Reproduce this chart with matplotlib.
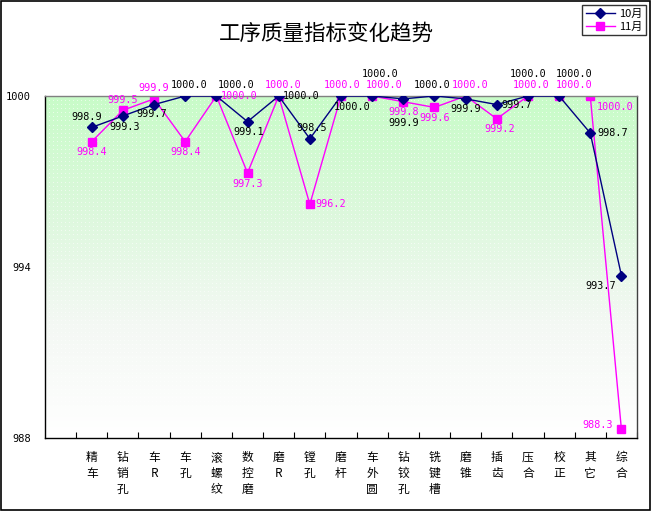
import numpy as np
import matplotlib
matplotlib.use('Agg')
import matplotlib.pyplot as plt
from matplotlib.colors import LinearSegmentedColormap

plt.rcParams['font.family'] = ['Noto Sans CJK SC', 'DejaVu Sans']

# data
categories = ['精\n车', '钻\n销\n孔', '车\nR', '车\n孔', '滚\n螺\n纹', '数\n控\n磨', '磨\nR', '镗\n孔', '磨\n杆',
              '车\n外\n圆', '钻\n铰\n孔', '铣\n键\n槽', '磨\n锥', '插\n齿', '压\n合', '校\n正', '其\n它', '综\n合']
oct_vals = [998.9, 999.3, 999.7, 1000.0, 1000.0, 999.1, 1000.0, 998.5, 1000.0,
            1000.0, 999.9, 1000.0, 999.9, 999.7, 1000.0, 1000.0, 998.7, 993.7]
nov_vals = [998.4, 999.5, 999.9, 998.4, 1000.0, 997.3, 1000.0, 996.2, 1000.0,
            1000.0, 999.8, 999.6, 1000.0, 999.2, 1000.0, 1000.0, 1000.0, 988.3]
yticks = [988, 994, 1000]

# label offsets in points (dx, dy, ha, va)
oct_off = [(-3.5, 4, 'center', 'bottom'), (1, -4, 'center', 'top'), (-2, -3, 'center', 'top'), (3, 4, 'center', 'bottom'),
           (14, 4, 'center', 'bottom'), (1, -4, 'center', 'top'), (3, 0, 'left', 'center'), (1, 4, 'center', 'bottom'),
           (8, -4, 'center', 'top'), (6, 12, 'center', 'bottom'), (0, -14, 'center', 'top'), (-2, 4, 'center', 'bottom'),
           (0, -4, 'center', 'top'), (3, 0, 'left', 'center'), (0, 12, 'center', 'bottom'), (11, 12, 'center', 'bottom'),
           (5, 0, 'left', 'center'), (-4, -4, 'right', 'top')]
nov_off = [(0, -4, 'center', 'top'), (0, 4, 'center', 'bottom'), (0, 4, 'center', 'bottom'), (0, -4, 'center', 'top'),
           (3, 0, 'left', 'center'), (0, -4, 'center', 'top'), (3, 4, 'center', 'bottom'), (4, 0, 'left', 'center'),
           (1, 4, 'center', 'bottom'), (9, 4, 'center', 'bottom'), (0, -4, 'center', 'top'), (0, -4, 'center', 'top'),
           (3, 4, 'center', 'bottom'), (2, -4, 'center', 'top'), (2, 4, 'center', 'bottom'), (11, 4, 'center', 'bottom'),
           (5, -4, 'left', 'top'), (-6, 3, 'right', 'center')]

fig = plt.figure(figsize=(6.51, 5.11), dpi=100)
fig.patch.set_facecolor('white')
fig.patches.append(plt.Rectangle((0.0015, 0.002), 0.997, 0.996, transform=fig.transFigure,
                                 fill=False, edgecolor='black', linewidth=1.2))

# plot area: x 45..637 px, y 96..438 px (one empty slot left of the first category)
ax = fig.add_axes([0.0691, 0.1429, 0.9094, 0.6692])
x = np.arange(len(categories))
x0, x1 = -1.5, len(categories) - 0.5
ax.set_xlim(x0, x1)
ax.set_ylim(988, 1000)

# gradient background
cmap = LinearSegmentedColormap.from_list('bg', ['#c8fcc8', '#dcf8dc', '#f4f8f4', '#ffffff'])
grad = np.linspace(0, 1, 256).reshape(-1, 1)
ax.imshow(grad, aspect='auto', cmap=cmap, extent=(x0, x1, 988, 1000), origin='upper', zorder=0)
# dotted texture
gx, gy = np.meshgrid(np.linspace(x0, x1, 150), np.linspace(988, 1000, 85))
ax.scatter(gx.ravel(), gy.ravel(), s=0.3, color='white', alpha=0.8, zorder=0.5, linewidths=0)

ax.plot(x, oct_vals, color='#000080', marker='D', markersize=5, linewidth=1, label='10月', zorder=3)
ax.plot(x, nov_vals, color='#ff00ff', marker='s', markersize=6, linewidth=1, label='11月', zorder=2)

for i, v in enumerate(oct_vals):
    dx, dy, ha, va = oct_off[i]
    ax.annotate('%.1f' % v, (i, v), xytext=(dx, dy), textcoords='offset points', ha=ha, va=va,
                fontsize=7.3, family='DejaVu Sans Mono', color='black', annotation_clip=False, zorder=4)
for i, v in enumerate(nov_vals):
    dx, dy, ha, va = nov_off[i]
    ax.annotate('%.1f' % v, (i, v), xytext=(dx, dy), textcoords='offset points', ha=ha, va=va,
                fontsize=7.3, family='DejaVu Sans Mono', color='#ff00ff', annotation_clip=False, zorder=4)

ax.set_yticks(yticks)
ax.set_yticklabels([str(t) for t in yticks], fontsize=7.5, family='DejaVu Sans Mono')
ax.tick_params(axis='y', length=0, pad=10)
ax.set_xticks(np.arange(len(categories) + 1) - 0.5, minor=False)
ax.set_xticklabels([])
ax.tick_params(axis='x', direction='in', length=4, width=0.8)
for i, c in enumerate(categories):
    ax.text(i, 987.55, c, ha='center', va='top', fontsize=8.5, linespacing=1.3,
            transform=ax.transData, clip_on=False)

ax.spines['top'].set_color('#808080')
ax.spines['right'].set_color('#404040')
ax.spines['left'].set_color('black')
ax.spines['bottom'].set_color('black')
for s in ax.spines.values():
    s.set_linewidth(1)

fig.text(0.501, 0.934, '工序质量指标变化趋势', ha='center', va='center', fontsize=15.5)

leg = fig.legend(loc='upper right', bbox_to_anchor=(0.992, 0.99), fontsize=8, frameon=True,
                 fancybox=False, edgecolor='black', handlelength=2.6, borderpad=0.3, labelspacing=0.3,
                 handletextpad=0.4, borderaxespad=0)
leg.get_frame().set_linewidth(1)

fig.savefig('out.png', dpi=100)
